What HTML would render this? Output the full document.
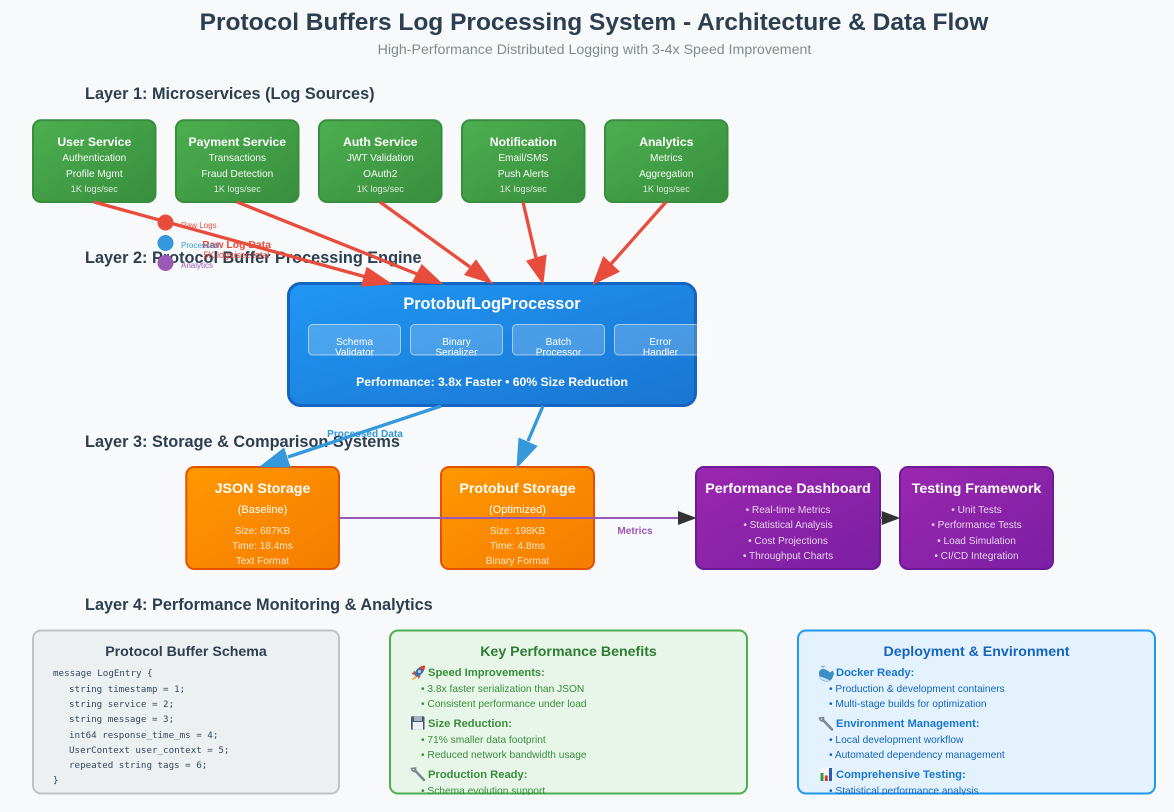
<!DOCTYPE html>
<html>
<head>
<meta charset="utf-8">
<title>Protocol Buffers Log Processing System</title>
<style>
html,body{margin:0;padding:0;background:#f8f9fa;}
svg{display:block;}
text{font-family:"Liberation Sans",Arial,sans-serif;}
.m{text-anchor:middle;}
.w{fill:#fff;}
.b{font-weight:bold;}
.h{font-size:16.3px;font-weight:bold;fill:#2c3e50;}
.st{font-size:12.2px;font-weight:bold;fill:#fff;text-anchor:middle;}
.s1{font-size:10.1px;fill:#fff;text-anchor:middle;opacity:.95;}
.s2{font-size:9.1px;fill:#fff;text-anchor:middle;opacity:.8;}
.sub{font-size:10.1px;fill:#fff;text-anchor:middle;}
.t14{font-size:14.25px;font-weight:bold;fill:#fff;text-anchor:middle;}
.d{font-size:10.1px;fill:#fff;text-anchor:middle;opacity:.8;}
.code{font-family:"DejaVu Sans Mono","Liberation Mono",monospace;font-size:9.2px;fill:#34495e;}
.gh{font-size:11.2px;font-weight:bold;fill:#388e3c;}
.gb{font-size:10.2px;fill:#388e3c;}
.bh{font-size:11.2px;font-weight:bold;fill:#1976d2;}
.bb{font-size:10.2px;fill:#1565c0;}
</style>
</head>
<body>
<svg xmlns="http://www.w3.org/2000/svg" width="1174" height="812" viewBox="0 0 1174 812">
<defs>
<linearGradient id="gG" x1="0" y1="0" x2="1" y2="1"><stop offset="0" stop-color="#4caf50"/><stop offset="1" stop-color="#388e3c"/></linearGradient>
<linearGradient id="gB" x1="0" y1="0" x2="1" y2="1"><stop offset="0" stop-color="#2196f3"/><stop offset="1" stop-color="#1976d2"/></linearGradient>
<linearGradient id="gO" x1="0" y1="0" x2="1" y2="1"><stop offset="0" stop-color="#ff9800"/><stop offset="1" stop-color="#f57c00"/></linearGradient>
<linearGradient id="gP" x1="0" y1="0" x2="1" y2="1"><stop offset="0" stop-color="#9c27b0"/><stop offset="1" stop-color="#7b1fa2"/></linearGradient>
<clipPath id="c1"><rect x="308" y="324" width="92" height="31.5"/></clipPath>
<clipPath id="c2"><rect x="410" y="324" width="92" height="31.5"/></clipPath>
<clipPath id="c3"><rect x="512" y="324" width="92" height="31.5"/></clipPath>
<clipPath id="c4"><rect x="614" y="324" width="93" height="31.5"/></clipPath>
<clipPath id="cG"><rect x="390" y="630" width="357" height="165"/></clipPath>
<clipPath id="cD"><rect x="798" y="630" width="357" height="165"/></clipPath>
</defs>

<rect width="1174" height="812" fill="#f8f9fa"/>

<text x="594" y="30" class="m b" font-size="24.5" fill="#2c3e50">Protocol Buffers Log Processing System - Architecture &amp; Data Flow</text>
<text x="594.500" y="54" class="m" font-size="14.2" fill="#7f8c8d">High-Performance Distributed Logging with 3-4x Speed Improvement</text>

<text x="85" y="99" class="h">Layer 1: Microservices (Log Sources)</text>
<text x="85" y="263" class="h">Layer 2: Protocol Buffer Processing Engine</text>
<text x="85" y="447" class="h">Layer 3: Storage &amp; Comparison Systems</text>
<text x="85" y="610" class="h">Layer 4: Performance Monitoring &amp; Analytics</text>

<!-- Services -->
<g fill="url(#gG)" stroke="#388e3c" stroke-width="2">
<rect x="33" y="120.300" width="122.500" height="81.700" rx="8"/>
<rect x="176" y="120.300" width="122.500" height="81.700" rx="8"/>
<rect x="319" y="120.300" width="122.500" height="81.700" rx="8"/>
<rect x="462" y="120.300" width="122.500" height="81.700" rx="8"/>
<rect x="605" y="120.300" width="122.500" height="81.700" rx="8"/>
</g>
<text x="94.300" y="146" class="st">User Service</text>
<text x="94.300" y="161" class="s1">Authentication</text>
<text x="94.300" y="177" class="s1">Profile Mgmt</text>
<text x="94.300" y="192" class="s2">1K logs/sec</text>
<text x="237.300" y="146" class="st">Payment Service</text>
<text x="237.300" y="161" class="s1">Transactions</text>
<text x="237.300" y="177" class="s1">Fraud Detection</text>
<text x="237.300" y="192" class="s2">1K logs/sec</text>
<text x="380.300" y="146" class="st">Auth Service</text>
<text x="380.300" y="161" class="s1">JWT Validation</text>
<text x="380.300" y="177" class="s1">OAuth2</text>
<text x="380.300" y="192" class="s2">1K logs/sec</text>
<text x="523.300" y="146" class="st">Notification</text>
<text x="523.300" y="161" class="s1">Email/SMS</text>
<text x="523.300" y="177" class="s1">Push Alerts</text>
<text x="523.300" y="192" class="s2">1K logs/sec</text>
<text x="666.300" y="146" class="st">Analytics</text>
<text x="666.300" y="161" class="s1">Metrics</text>
<text x="666.300" y="177" class="s1">Aggregation</text>
<text x="666.300" y="192" class="s2">1K logs/sec</text>

<!-- Processor -->
<rect x="288.500" y="283.500" width="407" height="122" rx="12" fill="url(#gB)" stroke="#1565c0" stroke-width="3"/>
<text x="492" y="309" class="m b w" font-size="16.3">ProtobufLogProcessor</text>
<g fill="#fff" fill-opacity=".2" stroke="#fff" stroke-opacity=".55" stroke-width="1">
<rect x="308.500" y="324.500" width="92" height="30.500" rx="4"/>
<rect x="410.500" y="324.500" width="92" height="30.500" rx="4"/>
<rect x="512.500" y="324.500" width="92" height="30.500" rx="4"/>
<rect x="614.500" y="324.500" width="92.500" height="30.500" rx="4"/>
</g>
<g clip-path="url(#c1)"><text x="354.500" y="345" class="sub">Schema</text><text x="354.500" y="355.500" class="sub">Validator</text></g>
<g clip-path="url(#c2)"><text x="456.500" y="345" class="sub">Binary</text><text x="456.500" y="355.500" class="sub">Serializer</text></g>
<g clip-path="url(#c3)"><text x="558.500" y="345" class="sub">Batch</text><text x="558.500" y="355.500" class="sub">Processor</text></g>
<g clip-path="url(#c4)"><text x="660.500" y="345" class="sub">Error</text><text x="660.500" y="355.500" class="sub">Handler</text></g>
<text x="492" y="386" class="m b w" font-size="12.2">Performance: 3.8x Faster • 60% Size Reduction</text>

<!-- Storage -->
<g stroke="#e65100" stroke-width="2" fill="url(#gO)">
<rect x="186.300" y="467" width="152.700" height="102" rx="8"/>
<rect x="441" y="467" width="153" height="102" rx="8"/>
</g>
<text x="262.500" y="493" class="t14">JSON Storage</text>
<text x="262.500" y="513" class="m w" font-size="11">(Baseline)</text>
<text x="262.500" y="534" class="d">Size: 687KB</text>
<text x="262.500" y="549" class="d">Time: 18.4ms</text>
<text x="262.500" y="564" class="d">Text Format</text>
<text x="517.500" y="493" class="t14">Protobuf Storage</text>
<text x="517.500" y="513" class="m w" font-size="11">(Optimized)</text>
<text x="517.500" y="534" class="d">Size: 198KB</text>
<text x="517.500" y="549" class="d">Time: 4.8ms</text>
<text x="517.500" y="564" class="d">Binary Format</text>

<g stroke="#6a1b9a" stroke-width="2" fill="url(#gP)">
<rect x="696" y="467" width="184" height="102" rx="8"/>
<rect x="900" y="467" width="153" height="102" rx="8"/>
</g>
<text x="788" y="493" class="t14">Performance Dashboard</text>
<text x="788" y="513" class="d">• Real-time Metrics</text>
<text x="788" y="528" class="d">• Statistical Analysis</text>
<text x="788" y="544" class="d">• Cost Projections</text>
<text x="788" y="559" class="d">• Throughput Charts</text>
<text x="976.500" y="493" class="t14">Testing Framework</text>
<text x="976.500" y="513" class="d">• Unit Tests</text>
<text x="976.500" y="528" class="d">• Performance Tests</text>
<text x="976.500" y="544" class="d">• Load Simulation</text>
<text x="976.500" y="559" class="d">• CI/CD Integration</text>

<!-- Connectors -->
<g stroke="#e74c3c" stroke-width="3.300" fill="none">
<line x1="94" y1="202" x2="366" y2="277"/>
<line x1="237" y1="202" x2="417" y2="274"/>
<line x1="380" y1="202" x2="470" y2="267"/>
<line x1="523" y1="202" x2="536" y2="258"/>
<line x1="666" y1="202" x2="611" y2="264"/>
</g>
<g fill="#e74c3c">
<polygon points="360.700,286.700 366.700,266.700 392.700,284.300"/>
<polygon points="411.700,282.700 421.700,264 443.300,284.300"/>
<polygon points="464,275 476,259.300 493.300,284.300"/>
<polygon points="526,260.700 546.700,254.300 543.300,285"/>
<polygon points="603.300,256 620,271.700 592.300,285"/>
</g>
<g stroke="#3498db" stroke-width="3.300" fill="none">
<line x1="441" y1="406" x2="288" y2="457"/>
<line x1="543" y1="406" x2="528" y2="441"/>
</g>
<g fill="#3498db">
<polygon points="284.100,447.500 290.700,467.500 259,467"/>
<polygon points="518.500,437.500 537.700,446 516.500,468.500"/>
</g>
<g stroke="#9b59b6" stroke-width="2" fill="none">
<line x1="339" y1="518" x2="680" y2="518"/>
<line x1="880" y1="518" x2="884" y2="518"/>
</g>
<g fill="#333">
<polygon points="678,511 678,525 696.700,518"/>
<polygon points="881.700,511 881.700,525 900.300,518"/>
</g>

<text x="365" y="437" class="m b" font-size="10.1" fill="#3498db">Processed Data</text>
<text x="635" y="534" class="m b" font-size="10.1" fill="#9b59b6">Metrics</text>
<text x="236.500" y="248" class="m b" font-size="10.4" fill="#e74c3c">Raw Log Data</text>
<text x="236.500" y="258" class="m" font-size="9" fill="#e74c3c">5K logs/sec total</text>

<!-- Legend -->
<circle cx="165.500" cy="222.500" r="8" fill="#e74c3c"/>
<circle cx="165.500" cy="243" r="8" fill="#3498db"/>
<circle cx="165.500" cy="263" r="8" fill="#9b59b6"/>
<text x="181" y="228" font-size="8" fill="#e74c3c">Raw Logs</text>
<text x="181" y="248" font-size="8" fill="#3498db">Processed</text>
<text x="181" y="268" font-size="8" fill="#9b59b6">Analytics</text>

<!-- Panels -->
<rect x="33" y="630.500" width="306" height="163" rx="8" fill="#ecf0f1" stroke="#bdc3c7" stroke-width="2"/>
<text x="186" y="656" class="m b" font-size="14.2" fill="#2c3e50">Protocol Buffer Schema</text>
<text x="53" y="676" class="code">message LogEntry {</text>
<text x="69" y="692" class="code">string timestamp = 1;</text>
<text x="69" y="707" class="code">string service = 2;</text>
<text x="69" y="722" class="code">string message = 3;</text>
<text x="69" y="738" class="code">int64 response_time_ms = 4;</text>
<text x="69" y="753" class="code">UserContext user_context = 5;</text>
<text x="69" y="768" class="code">repeated string tags = 6;</text>
<text x="53" y="783" class="code">}</text>

<rect x="390" y="630.500" width="357" height="163" rx="8" fill="#e8f5e9" stroke="#4caf50" stroke-width="2"/>
<text x="568.500" y="656" class="m b" font-size="14.2" fill="#2e7d32">Key Performance Benefits</text>
<g clip-path="url(#cG)">
<text x="428" y="676" class="gh">Speed Improvements:</text>
<text x="421" y="692" class="gb">• 3.8x faster serialization than JSON</text>
<text x="421" y="707" class="gb">• Consistent performance under load</text>
<text x="428" y="727" class="gh">Size Reduction:</text>
<text x="421" y="743" class="gb">• 71% smaller data footprint</text>
<text x="421" y="758" class="gb">• Reduced network bandwidth usage</text>
<text x="428" y="778" class="gh">Production Ready:</text>
<text x="421" y="794" class="gb">• Schema evolution support</text>
</g>

<rect x="798" y="630.500" width="357" height="163" rx="8" fill="#e3f2fd" stroke="#2196f3" stroke-width="2"/>
<text x="976.500" y="656" class="m b" font-size="14.2" fill="#1565c0">Deployment &amp; Environment</text>
<g clip-path="url(#cD)">
<text x="836" y="676" class="bh">Docker Ready:</text>
<text x="829" y="692" class="bb">• Production &amp; development containers</text>
<text x="829" y="707" class="bb">• Multi-stage builds for optimization</text>
<text x="836" y="727" class="bh">Environment Management:</text>
<text x="829" y="743" class="bb">• Local development workflow</text>
<text x="829" y="758" class="bb">• Automated dependency management</text>
<text x="836" y="778" class="bh">Comprehensive Testing:</text>
<text x="829" y="794" class="bb">• Statistical performance analysis</text>
</g>

<!-- Icons -->
<!-- rocket -->
<g>
<path d="M425 665.500 C420 666 416 669 414 674.500 L416.500 677 C422 675 425 671 425 665.500Z" fill="#3f6fa8"/>
<path d="M425 665.500 C423 665.600 421 666.200 419.500 667.200 L423.300 671 C424.300 669.500 425 667.500 425 665.500Z" fill="#d9412f"/>
<circle cx="419.500" cy="671.500" r="1.500" fill="#bcd6ee"/>
<path d="M414.800 670.500 L411.500 674 L414.800 674.800Z M417.800 675.800 L418.500 679 L421 675.500Z" fill="#d9412f"/>
<path d="M415 676 L411 680.500 L416.500 678.300Z" fill="#f5a623"/>
</g>
<!-- floppy -->
<g>
<rect x="411" y="716.300" width="13.500" height="13.500" rx="1" fill="#46586b"/>
<rect x="414" y="716.300" width="8" height="4.700" fill="#aab4bd"/>
<rect x="412.700" y="722" width="10.300" height="7.800" fill="#eef2f6"/>
</g>
<!-- wrench green panel -->
<g stroke="#7c8690" stroke-width="2.500" stroke-linecap="round" fill="none">
<line x1="424" y1="780" x2="415" y2="770.500"/>
<path d="M411.500 768.500 Q412.500 772 415.500 771.500 L415.500 768 Z" stroke-width="1.600"/>
</g>
<!-- whale -->
<g>
<path d="M819 673 C819 679 822 681.500 827 681.500 C831.500 681.500 833 677 834 673.500 L832.800 670.500 L830 672.500 C829 671.500 826 669 823 669 C820.500 669 819 670.500 819 673Z" fill="#3b8fc4"/>
<path d="M819.500 676.500 C821.500 681 826 681.800 830 680.500 C826 678.500 823 677 819.500 676.500Z" fill="#cfe3f0"/>
<path d="M823 668.500 L823 666.500 M821 666.300 L825 666.300" stroke="#6fb7e2" stroke-width="1.100"/>
</g>
<!-- wrench blue panel -->
<g stroke="#7c8690" stroke-width="2.500" stroke-linecap="round" fill="none">
<line x1="832" y1="729.500" x2="823" y2="720"/>
<path d="M819.500 718 Q820.500 721.500 823.500 721 L823.500 717.500 Z" stroke-width="1.600"/>
</g>
<!-- chart -->
<g>
<rect x="820" y="767.500" width="12.500" height="13.500" fill="#f4f6f8"/>
<rect x="820.500" y="773" width="3" height="8" fill="#2f9e44"/>
<rect x="824.800" y="775.500" width="3" height="5.500" fill="#d63a2f"/>
<rect x="829" y="768" width="3" height="13" fill="#2a5db0"/>
</g>
</svg>
</body>
</html>
